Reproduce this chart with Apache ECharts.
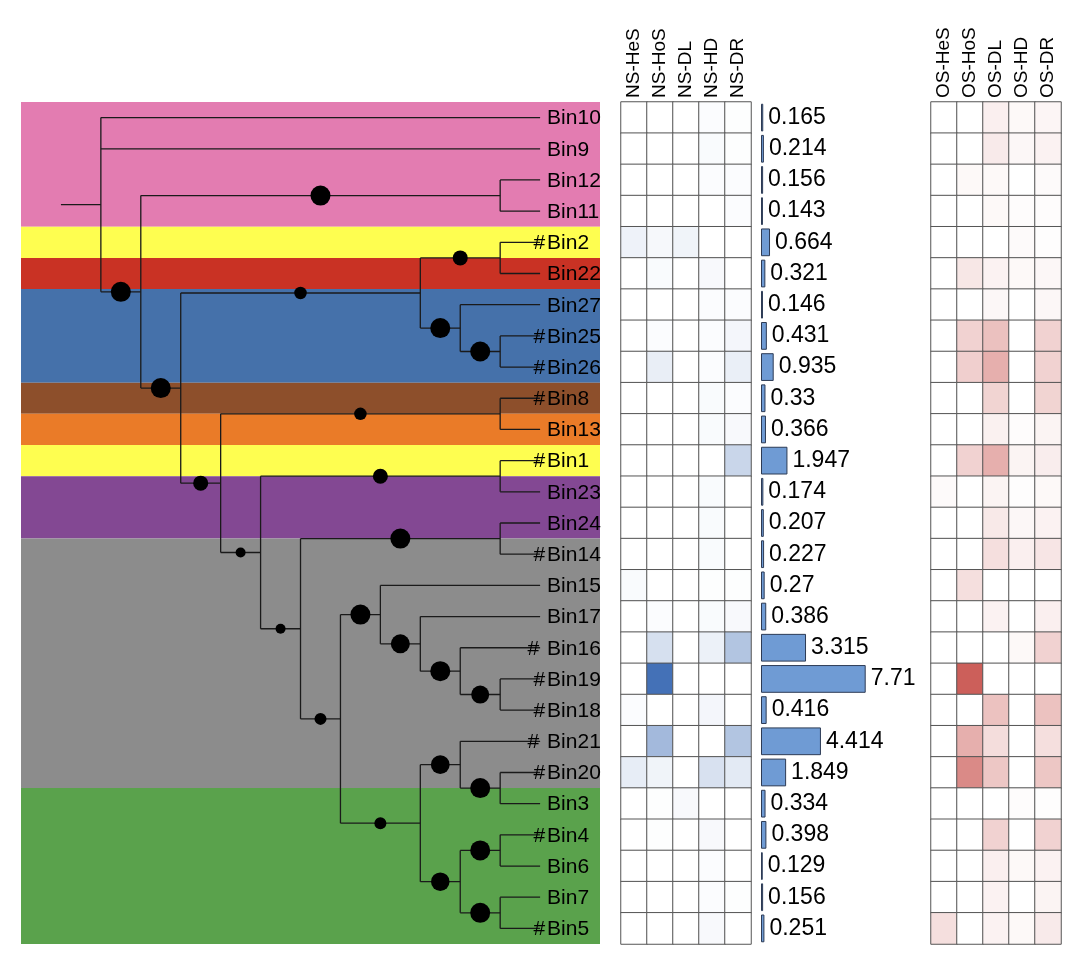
<!DOCTYPE html>
<html><head><meta charset="utf-8">
<script src="https://cdn.jsdelivr.net/npm/echarts@6.0.0/dist/echarts.min.js"></script>
<style>html,body{margin:0;padding:0;background:#fff}#c{width:1080px;height:959px}</style>
</head><body><div id="c"></div>
<script>
// ---------------- DATA ----------------
const treeNewick = "(Bin10,Bin9,((Bin12,Bin11)100,(((Bin2,Bin22)80,(Bin27,(Bin25,Bin26)100)100)70,((Bin8,Bin13)70,((Bin1,Bin23)80,((Bin24,Bin14)100,((Bin15,(Bin17,(Bin16,(Bin19,Bin18)92)100)96)100,((Bin21,(Bin20,Bin3)100)95,((Bin4,Bin6)100,(Bin7,Bin5)100)94)68)68)60)60)80)100)100);";

const bins = ['Bin10','Bin9','Bin12','Bin11','Bin2','Bin22','Bin27','Bin25','Bin26','Bin8','Bin13','Bin1','Bin23','Bin24','Bin14','Bin15','Bin17','Bin16','Bin19','Bin18','Bin21','Bin20','Bin3','Bin4','Bin6','Bin7','Bin5'];
const tipMarks = ['','','','','#','','','#','#','#','','#','','','#','','','# ','#','#','# ','#','','#','','','#'];

const bandRows = [[0,3],[4,4],[5,5],[6,8],[9,9],[10,10],[11,11],[12,13],[14,21],[22,26]];

const nsCols = ['NS-HeS','NS-HoS','NS-DL','NS-HD','NS-DR'];
const osCols = ['OS-HeS','OS-HoS','OS-DL','OS-HD','OS-DR'];

const nsValues = [
  [0,0,0,0.02,0.01],
  [0,0,0,0.03,0.01],
  [0,0,0,0.02,0.02],
  [0,0,0,0,0.02],
  [0.09,0.05,0.08,0,0],
  [0,0.03,0,0.04,0],
  [0,0,0,0.02,0.02],
  [0,0.02,0,0.02,0.06],
  [0,0.12,0,0.02,0.11],
  [0,0,0,0.03,0.02],
  [0,0,0,0.03,0.04],
  [0,0,0,0,0.29],
  [0,0,0,0.03,0],
  [0,0,0,0.03,0],
  [0,0,0,0.03,0],
  [0.03,0,0,0.01,0.01],
  [0,0.02,0,0.03,0.04],
  [0,0.22,0,0.1,0.41],
  [0,1,0,0,0],
  [0.02,0,0,0.06,0],
  [0,0.49,0,0,0.41],
  [0.13,0.08,0,0.21,0.15],
  [0,0.01,0.04,0,0],
  [0,0.01,0,0.04,0],
  [0,0,0,0.02,0],
  [0,0,0,0.02,0.01],
  [0,0,0,0.04,0]
];

const osValues = [
  [0,0,0.1,0.04,0.06],
  [0,0,0.13,0.05,0.08],
  [0,0.04,0.04,0,0.03],
  [0,0,0.04,0.02,0.02],
  [0,0,0,0.03,0.01],
  [0,0.15,0.08,0.04,0.05],
  [0,0,0.05,0,0.05],
  [0,0.28,0.39,0,0.28],
  [0,0.3,0.5,0,0.28],
  [0,0,0.27,0,0.27],
  [0,0,0.09,0.02,0.07],
  [0,0.28,0.5,0.07,0.11],
  [0.03,0,0.07,0.01,0.04],
  [0,0,0.14,0.05,0.08],
  [0,0,0.2,0.1,0.16],
  [0,0.2,0,0,0],
  [0,0,0.08,0,0.1],
  [0,0,0,0.04,0.28],
  [0,1,0,0,0],
  [0,0,0.38,0,0.38],
  [0,0.5,0.21,0,0.2],
  [0,0.73,0.35,0,0.35],
  [0,0,0,0.02,0.01],
  [0,0,0.28,0,0.28],
  [0,0,0.1,0.04,0.08],
  [0,0,0.08,0,0.07],
  [0.2,0,0.08,0.04,0.13]
];

const ratioValues = [0.165,0.214,0.156,0.143,0.664,0.321,0.146,0.431,0.935,0.33,0.366,1.947,0.174,0.207,0.227,0.27,0.386,3.315,7.71,0.416,4.414,1.849,0.334,0.398,0.129,0.156,0.251];

// ---------------- STYLE ----------------
const bandColors = ['#e37cb1','#fefe50','#c93224','#4571aa','#8d4f2b','#ea7b28','#fefe50','#834893','#8c8c8c','#5aa24c'];
const FONT = "'Liberation Sans', Arial, Helvetica, sans-serif";

// ---------------- TREE LAYOUT ----------------
function parseNewick(s){
  let i = 0;
  function node(){
    const n = {children: []};
    if (s[i] === '('){
      i++;
      n.children.push(node());
      while (s[i] === ','){ i++; n.children.push(node()); }
      i++; // ')'
    }
    let lab = '';
    while (i < s.length && !',();'.includes(s[i])) lab += s[i++];
    if (n.children.length) n.support = lab ? +lab : null; else n.name = lab;
    return n;
  }
  return node();
}
const root = parseNewick(treeNewick);
function height(n){ n.h = n.children.length ? 1 + Math.max(...n.children.map(height)) : 0; return n.h; }
height(root);
const H = root.h;
function place(n){
  n.x = H - n.h;
  if (!n.children.length){ n.y = bins.indexOf(n.name); }
  else { n.children.forEach(place); const ys = n.children.map(c=>c.y); n.y = (Math.min(...ys)+Math.max(...ys))/2; }
}
place(root);
const segs = [], dots = [];
function walk(n, parent){
  if (parent){
    segs.push([parent.x, n.y, n.x, n.y]);
    if (n.children.length && n.support != null) dots.push([(parent.x+n.x)/2, n.y, n.support]);
  } else {
    segs.push([n.x-1, n.y, n.x, n.y]);
  }
  if (n.children.length){
    const ys = n.children.map(c=>c.y);
    segs.push([n.x, Math.min(...ys), n.x, Math.max(...ys)]);
    n.children.forEach(c=>walk(c, n));
  }
}
walk(root, null);

const X_MIN = -2, X_MAX = 12.5;

function heatData(vals){
  const out = [];
  vals.forEach((row, r) => row.forEach((v, c) => out.push([c, r, v])));
  return out;
}

// ---------------- CHART ----------------
const chart = echarts.init(document.getElementById('c'), null, {renderer:'canvas'});
const colAxis = (data, gi) => ({
  type:'category', data, gridIndex: gi, position:'top',
  axisLine:{show:false}, axisTick:{show:false}, splitLine:{show:false},
  axisLabel:{rotate:-90, fontSize:19, color:'#000', margin:4, fontFamily:FONT, interval:0}
});
const rowAxis = gi => ({type:'category', data:bins, gridIndex:gi, inverse:true, show:false});

chart.setOption({
  animation:false,
  backgroundColor:'#fff',
  grid:[
    {left:21, top:102, width:579, height:842},
    {left:621, top:102, width:130, height:842},
    {left:761, top:102, width:135.8, height:842},
    {left:931, top:102, width:130, height:842}
  ],
  xAxis:[
    {type:'value', gridIndex:0, min:X_MIN, max:X_MAX, show:false},
    colAxis(nsCols, 1),
    {type:'value', gridIndex:2, min:0, max:10, show:false},
    colAxis(osCols, 3)
  ],
  yAxis:[
    {type:'value', gridIndex:0, min:-0.5, max:bins.length-0.5, inverse:true, show:false},
    rowAxis(1), rowAxis(2), rowAxis(3)
  ],
  visualMap:[
    {type:'continuous', show:false, seriesIndex:4, min:0, max:1, inRange:{color:['#ffffff','#4471b7']}},
    {type:'continuous', show:false, seriesIndex:6, min:0, max:1, inRange:{color:['#ffffff','#cc5f5a']}}
  ],
  series:[
    { // background bands
      type:'custom', xAxisIndex:0, yAxisIndex:0, silent:true, z:1,
      data: bandRows.map((r,i)=>[r[0], r[1], i]),
      renderItem:(params, api)=>{
        const a = api.coord([X_MIN, api.value(0)-0.5]);
        const b = api.coord([X_MAX, api.value(1)+0.5]);
        return {type:'rect', shape:{x:a[0], y:a[1], width:b[0]-a[0], height:b[1]-a[1]},
          style:{fill: bandColors[api.value(2)]}};
      }
    },
    { // tree branches
      type:'custom', xAxisIndex:0, yAxisIndex:0, silent:true, z:2,
      data: segs,
      renderItem:(params, api)=>{
        const a = api.coord([api.value(0), api.value(1)]);
        const b = api.coord([api.value(2), api.value(3)]);
        return {type:'line', shape:{x1:a[0], y1:a[1], x2:b[0], y2:b[1]},
          style:{stroke:'#1a1a1a', lineWidth:1.3}};
      }
    },
    { // support dots
      type:'scatter', xAxisIndex:0, yAxisIndex:0, silent:true, z:3,
      data: dots,
      symbol:'circle',
      symbolSize: v => 10 + (v[2]-60)/40*10,
      itemStyle:{color:'#000', opacity:1}
    },
    { // tip labels
      type:'custom', xAxisIndex:0, yAxisIndex:0, silent:true, z:4,
      data: bins.map((b,i)=>[H, i]),
      renderItem:(params, api)=>{
        const p = api.coord([api.value(0), api.value(1)]);
        const i = params.dataIndex;
        return {type:'group', children:[
          {type:'text', style:{text:bins[i], x:p[0]+7, y:p[1]+1, align:'left', verticalAlign:'middle',
            fill:'#000', font:'21px '+FONT}},
          {type:'text', style:{text:tipMarks[i], x:p[0]+5, y:p[1]+1, align:'right', verticalAlign:'middle',
            fill:'#000', font:'21px '+FONT}}
        ]};
      }
    },
    { // NS heatmap
      type:'heatmap', xAxisIndex:1, yAxisIndex:1,
      data: heatData(nsValues),
      itemStyle:{borderColor:'#555', borderWidth:1},
      emphasis:{disabled:true}
    },
    { // bars
      type:'bar', xAxisIndex:2, yAxisIndex:2,
      data: ratioValues,
      barWidth:'89%',
      itemStyle:{color:'#6f9bd4', borderColor:'#2d3b55', borderWidth:1},
      label:{show:true, position:'right', distance:5, fontSize:23, color:'#000', fontFamily:FONT},
      emphasis:{disabled:true}
    },
    { // OS heatmap
      type:'heatmap', xAxisIndex:3, yAxisIndex:3,
      data: heatData(osValues),
      itemStyle:{borderColor:'#555', borderWidth:1},
      emphasis:{disabled:true}
    }
  ]
});
</script>
</body></html>
